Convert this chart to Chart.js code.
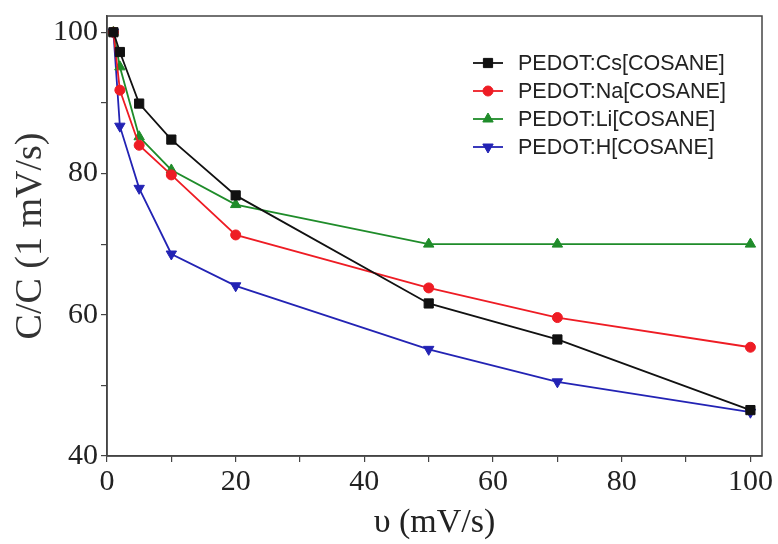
<!DOCTYPE html>
<html>
<head>
<meta charset="utf-8">
<script src="https://cdn.jsdelivr.net/npm/chart.js@4/dist/chart.umd.min.js"></script>
<style>
  html, body { margin: 0; padding: 0; background: #fff; }
  #wrap { width: 778px; height: 544px; }
</style>
</head>
<body>
<div id="wrap"><canvas id="c" width="778" height="544"></canvas></div>
<script>
// ---- data ----
const scanRates = [1, 2, 5, 10, 20, 50, 70, 100];
const csValues = [100, 97.2, 89.9, 84.8, 76.9, 61.6, 56.5, 46.5];
const naValues = [100, 91.8, 84.0, 79.8, 71.3, 63.8, 59.6, 55.4];
const liValues = [100, 95.1, 85.2, 80.5, 75.6, 70.0, 70.0, 70.0];
const hValues  = [100, 86.7, 77.9, 68.6, 64.1, 55.1, 50.5, 46.2];
const seriesLabels = ['PEDOT:Cs[COSANE]', 'PEDOT:Na[COSANE]', 'PEDOT:Li[COSANE]', 'PEDOT:H[COSANE]'];
const xTickLabels = ['0', '20', '40', '60', '80', '100'];
const yTickLabels = ['40', '60', '80', '100'];

const colors = ['#111111', '#ee1c24', '#1f8c2a', '#2323b4'];
const styles = [
  { pointStyle: 'rect', radius: 6.5, rotation: 0 },
  { pointStyle: 'circle', radius: 5, rotation: 0 },
  { pointStyle: 'triangle', radius: 6, rotation: 0 },
  { pointStyle: 'triangle', radius: 6, rotation: 180 }
];
const allValues = [csValues, naValues, liValues, hValues];

function toPoints(vals) { return scanRates.map((x, i) => ({ x: x, y: vals[i] })); }

const datasets = allValues.map((vals, i) => ({
  label: seriesLabels[i],
  data: toPoints(vals),
  borderColor: colors[i],
  backgroundColor: colors[i],
  borderWidth: 1.8,
  pointStyle: styles[i].pointStyle,
  pointRadius: styles[i].radius,
  pointRotation: styles[i].rotation,
  pointBorderWidth: 1,
  tension: 0,
  clip: false
}));

const frame = {
  id: 'frame',
  afterDraw(chart) {
    const { ctx, chartArea: a } = chart;
    ctx.save();
    ctx.strokeStyle = '#444';
    ctx.lineWidth = 1.5;
    ctx.strokeRect(a.left, a.top, a.right - a.left, a.bottom - a.top);
    ctx.restore();
  }
};

const legendBox = {
  id: 'legendBox',
  afterDraw(chart) {
    const ctx = chart.ctx;
    ctx.save();
    ctx.font = '21.5px "Liberation Sans", Arial, sans-serif';
    ctx.textBaseline = 'middle';
    ctx.textAlign = 'left';
    chart.data.datasets.forEach((ds, i) => {
      const y = 63 + i * 28;
      ctx.strokeStyle = ds.borderColor;
      ctx.lineWidth = 1.8;
      ctx.beginPath();
      ctx.moveTo(473, y);
      ctx.lineTo(503, y);
      ctx.stroke();
      ctx.fillStyle = ds.backgroundColor;
      ctx.strokeStyle = ds.borderColor;
      ctx.lineWidth = 1;
      Chart.helpers.drawPoint(ctx, {
        pointStyle: ds.pointStyle,
        radius: ds.pointRadius,
        rotation: ds.pointRotation,
        borderWidth: 1
      }, 488, y);
      ctx.fillStyle = '#222';
      ctx.fillText(ds.label, 518, y + 1);
    });
    ctx.restore();
  }
};

const serif = '"Liberation Serif", "Times New Roman", serif';

new Chart(document.getElementById('c'), {
  type: 'line',
  data: { datasets: datasets },
  options: {
    responsive: false,
    animation: false,
    layout: { padding: { top: 16, right: 16, left: 0, bottom: 0 } },
    plugins: { legend: { display: false }, tooltip: { enabled: false } },
    scales: {
      x: {
        type: 'linear',
        min: 0,
        max: 101.8,
        afterFit(s) { s.height = 88; s.paddingLeft = 0; s.paddingRight = 0; },
        border: { display: true, color: '#444', width: 1.5 },
        grid: { display: true, drawOnChartArea: false, drawTicks: true, tickLength: 6, color: '#444', lineWidth: 1.2 },
        ticks: {
          stepSize: 10,
          includeBounds: false,
          maxRotation: 0,
          autoSkip: false,
          padding: 2,
          color: '#222',
          font: { family: serif, size: 30 },
          callback: (v) => xTickLabels.includes(String(v)) ? String(v) : ''
        },
        title: {
          display: true,
          text: 'υ (mV/s)',
          color: '#222',
          font: { family: serif, size: 34 },
          padding: { top: 0, bottom: 1 }
        }
      },
      y: {
        type: 'linear',
        min: 40,
        max: 102.3,
        afterFit(s) { s.width = 107; s.paddingTop = 0; s.paddingBottom = 0; },
        border: { display: true, color: '#444', width: 1.5 },
        grid: { display: true, drawOnChartArea: false, drawTicks: true, tickLength: 6, color: '#444', lineWidth: 1.2 },
        ticks: {
          stepSize: 10,
          includeBounds: false,
          autoSkip: false,
          padding: 3,
          color: '#222',
          font: { family: serif, size: 30 },
          callback: (v) => yTickLabels.includes(String(v)) ? String(v) : ''
        },
        title: {
          display: true,
          text: 'C/C (1 mV/s)',
          color: '#333',
          font: { family: serif, size: 38 },
          padding: { top: 8, bottom: 0 }
        }
      }
    }
  },
  plugins: [frame, legendBox]
});
</script>
</body>
</html>
